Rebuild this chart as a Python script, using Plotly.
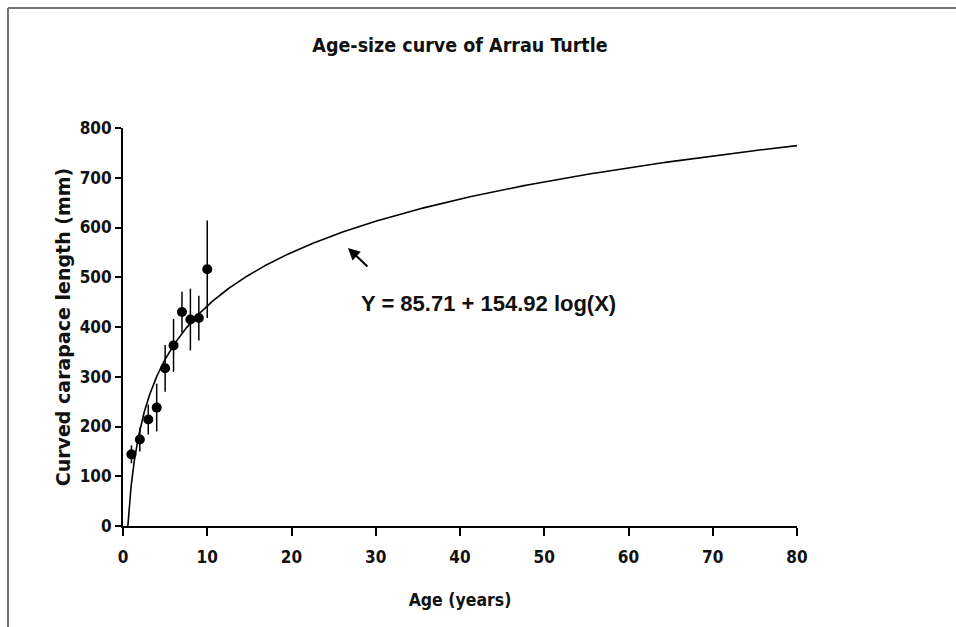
import numpy as np
import plotly.graph_objects as go

# Data
ages = [1, 2, 3, 4, 5, 6, 7, 8, 9, 10]
mean_ccl = [144, 174, 214, 238, 317, 363, 430, 415, 418, 516]
err_ccl = [18, 24, 30, 48, 47, 53, 41, 62, 45, 98]

# Fitted curve shown on the chart: Y = 85.71 + 154.92 log(X)
fit_a = 85.71
fit_b = 154.92
x_tick_vals = [0, 10, 20, 30, 40, 50, 60, 70, 80]
y_tick_vals = [0, 100, 200, 300, 400, 500, 600, 700, 800]

x_start = np.exp(-fit_a / fit_b)
curve_x = np.concatenate([[x_start], np.geomspace(x_start * 1.0001, 80, 600)])
curve_y = np.clip(fit_a + fit_b * np.log(curve_x), 0, None)

COND = "DejaVu Sans Condensed, Liberation Sans Narrow, Arial Narrow, sans-serif"

fig = go.Figure()
fig.add_trace(go.Scatter(
    x=curve_x, y=curve_y, mode="lines",
    line=dict(color="black", width=1.6), hoverinfo="skip", showlegend=False,
))
fig.add_trace(go.Scatter(
    x=ages, y=mean_ccl, mode="markers",
    marker=dict(color="black", size=10),
    error_y=dict(type="data", array=err_ccl, visible=True, color="black",
                 thickness=1.5, width=0),
    showlegend=False,
))

fig.update_layout(
    width=956, height=627,
    margin=dict(l=123, r=159, t=128, b=101),
    paper_bgcolor="white", plot_bgcolor="white",
    showlegend=False,
    title=dict(text="Age-size curve of Arrau Turtle", x=0.5, xanchor="center",
               xref="paper", y=1 - 45 / 627, yanchor="middle",
               font=dict(family=COND, size=19.5, color="#111", weight="bold")),
    xaxis=dict(range=[0, 80], tickvals=x_tick_vals, ticks="outside", ticklen=8,
               tickwidth=1.5, tickcolor="black", showline=True, linecolor="black",
               linewidth=2, showgrid=False, zeroline=False, ticklabelstandoff=7,
               tickfont=dict(family=COND, size=17, color="#111", weight="bold"),
               title=dict(text="Age (years)", standoff=27,
                          font=dict(family=COND, size=17.5, color="#111", weight="bold"))),
    yaxis=dict(range=[0, 800], tickvals=y_tick_vals, ticks="outside", ticklen=6,
               tickwidth=1.5, tickcolor="black", showline=True, linecolor="black",
               linewidth=2, showgrid=False, zeroline=False,
               tickfont=dict(family=COND, size=17, color="#111", weight="bold"),
               title=dict(text="Curved carapace length (mm)", standoff=4,
                          font=dict(family="DejaVu Sans, sans-serif", size=19,
                                    color="#111", weight="bold"))),
)

fig.add_annotation(
    x=26.7, y=559, xref="x", yref="y", text="", showarrow=True,
    arrowhead=2, arrowsize=1.2, arrowwidth=2, arrowcolor="black", ax=21, ay=20,
)
fig.add_annotation(
    x=(488.5 - 123) / 674, y=(526 - 303) / 398, xref="paper", yref="paper",
    text="Y = 85.71 + 154.92 log(X)", showarrow=False,
    xanchor="center", yanchor="middle",
    font=dict(family="Liberation Sans, Arial, sans-serif", size=22, color="#111",
              weight="bold"),
)

# Cropped frame (top and left edges only)
fig.add_shape(type="line", xref="paper", yref="paper",
              x0=(8 - 123) / 674, x1=(956 - 123) / 674, y0=(526 - 8) / 398, y1=(526 - 8) / 398,
              line=dict(color="#777", width=2))
fig.add_shape(type="line", xref="paper", yref="paper",
              x0=(8 - 123) / 674, x1=(8 - 123) / 674, y0=(526 - 8) / 398, y1=(526 - 640) / 398,
              line=dict(color="#777", width=2))

fig.write_html("out.html")
